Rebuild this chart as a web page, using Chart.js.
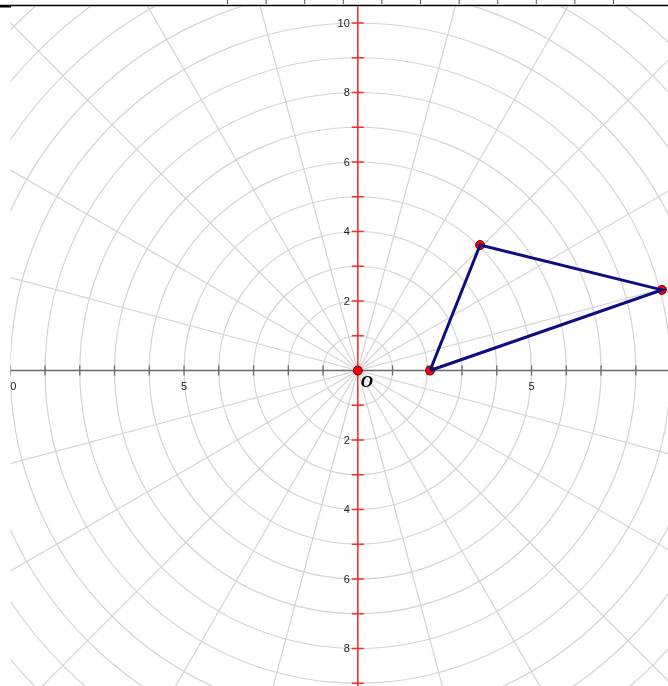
<!DOCTYPE html>
<html>
<head>
<meta charset="utf-8">
<script src="https://cdn.jsdelivr.net/npm/chart.js@4/dist/chart.umd.min.js"></script>
<style>
  html, body { margin: 0; padding: 0; background: #ffffff; }
  #wrap { position: relative; width: 668px; height: 686px; }
  canvas { display: block; }
</style>
</head>
<body>
<div id="wrap"><canvas id="c" width="668" height="686"></canvas></div>
<script>
// ---- data ----
const triX = [2.08, 3.52, 8.75];          // triangle vertices, x
const triY = [0, 3.61, 2.32];             // triangle vertices, y
const originX = [0];
const originY = [0];
const circleRadii = [1, 2, 3, 4, 5, 6, 7, 8, 9, 10, 11, 12, 13, 14];
const rayAnglesDeg = [0, 15, 30, 45, 60, 75, 90, 105, 120, 135, 150, 165,
                      180, 195, 210, 225, 240, 255, 270, 285, 300, 315, 330, 345];
const xTickValues = [-10, -9, -8, -7, -6, -5, -4, -3, -2, -1, 1, 2, 3, 4, 5, 6, 7, 8];
const yTickValues = [-9, -8, -7, -6, -5, -4, -3, -2, -1, 1, 2, 3, 4, 5, 6, 7, 8, 9, 10];
const xLabelValues = [-10, -5, 5];
const xLabelTexts = ['10', '5', '5'];
const yLabelValues = [10, 8, 6, 4, 2, -2, -4, -6, -8];
const yLabelTexts = ['10', '8', '6', '4', '2', '2', '4', '6', '8'];
const originLabel = 'O';

// view window (axis ranges)
const X_MIN = -10.296, X_MAX = 8.927;
const Y_MIN = -9.079, Y_MAX = 10.662;

const triPoints = triX.map((x, i) => ({ x: x, y: triY[i] }));
const closedTri = triPoints.concat([triPoints[0]]);
const dots = triPoints.concat(originX.map((x, i) => ({ x: x, y: originY[i] })));

const gridPlugin = {
  id: 'polarGrid',
  beforeDatasetsDraw(chart) {
    const ctx = chart.ctx;
    const xs = chart.scales.x, ys = chart.scales.y;
    const ox = xs.getPixelForValue(0), oy = ys.getPixelForValue(0);
    ctx.save();
    ctx.beginPath();
    ctx.rect(10.5, 6.5, chart.width - 10.5, chart.height - 6.5);
    ctx.clip();
    // polar grid
    ctx.strokeStyle = '#d4d4d4';
    ctx.lineWidth = 1.2;
    circleRadii.forEach(r => {
      ctx.beginPath();
      const rp = xs.getPixelForValue(r) - ox;
      ctx.arc(ox, oy, rp, 0, Math.PI * 2);
      ctx.stroke();
    });
    rayAnglesDeg.forEach(a => {
      const t = a * Math.PI / 180;
      const ex = xs.getPixelForValue(20 * Math.cos(t));
      const ey = ys.getPixelForValue(20 * Math.sin(t));
      ctx.beginPath();
      ctx.moveTo(ox, oy);
      ctx.lineTo(ex, ey);
      ctx.stroke();
    });
    // x axis
    ctx.strokeStyle = '#6a6a6a';
    ctx.lineWidth = 1.3;
    ctx.beginPath();
    ctx.moveTo(0, oy);
    ctx.lineTo(chart.width, oy);
    ctx.stroke();
    xTickValues.forEach(v => {
      const px = xs.getPixelForValue(v);
      ctx.beginPath();
      ctx.moveTo(px, oy - 5);
      ctx.lineTo(px, oy + 5);
      ctx.stroke();
    });
    // y axis
    ctx.strokeStyle = '#ff2a2a';
    ctx.lineWidth = 1.5;
    ctx.beginPath();
    ctx.moveTo(ox, 0);
    ctx.lineTo(ox, chart.height);
    ctx.stroke();
    yTickValues.forEach(v => {
      const py = ys.getPixelForValue(v);
      ctx.beginPath();
      ctx.moveTo(ox - 6, py);
      ctx.lineTo(ox + 6, py);
      ctx.stroke();
    });
    // labels
    ctx.fillStyle = '#222222';
    ctx.font = '11px "Liberation Sans", Arial, sans-serif';
    ctx.textAlign = 'right';
    ctx.textBaseline = 'middle';
    yLabelValues.forEach((v, i) => {
      ctx.fillText(yLabelTexts[i], ox - 8, ys.getPixelForValue(v) + 0.5);
    });
    ctx.textAlign = 'center';
    ctx.textBaseline = 'top';
    xLabelValues.forEach((v, i) => {
      ctx.fillText(xLabelTexts[i], xs.getPixelForValue(v), oy + 11);
    });
    ctx.fillStyle = '#000000';
    ctx.font = 'italic bold 17px "Liberation Serif", "Times New Roman", serif';
    ctx.textAlign = 'left';
    ctx.textBaseline = 'alphabetic';
    ctx.fillText(originLabel, ox + 3, oy + 16.5);
    ctx.restore();

    // top frame line
    ctx.save();
    ctx.strokeStyle = '#000000';
    ctx.lineWidth = 1.5;
    ctx.beginPath();
    ctx.moveTo(0, 5.5);
    ctx.lineTo(chart.width, 5.5);
    ctx.stroke();
    ctx.fillStyle = '#000000';
    ctx.fillRect(0, 5, 11, 2.5);
    ctx.strokeStyle = '#555555';
    ctx.lineWidth = 1;
    for (let k = 0; k < 11; k++) {
      const px = 227.5 + k * 38.6;
      ctx.beginPath();
      ctx.moveTo(px, 0);
      ctx.lineTo(px, 4);
      ctx.stroke();
    }
    ctx.restore();
  }
};

new Chart(document.getElementById('c'), {
  type: 'scatter',
  data: {
    datasets: [
      {
        label: 'triangle',
        data: closedTri,
        showLine: true,
        borderColor: '#0d0d82',
        borderWidth: 3,
        pointRadius: 0,
        fill: false,
        tension: 0,
        clip: false
      },
      {
        label: 'points',
        data: dots,
        showLine: false,
        pointRadius: 4.5,
        pointBackgroundColor: '#ff0000',
        pointBorderColor: '#5a0000',
        pointBorderWidth: 1,
        clip: false
      }
    ]
  },
  options: {
    responsive: false,
    animation: false,
    events: [],
    layout: { padding: 0, autoPadding: false },
    plugins: { legend: { display: false }, tooltip: { enabled: false }, title: { display: false } },
    scales: {
      x: { type: 'linear', min: X_MIN, max: X_MAX, display: false },
      y: { type: 'linear', min: Y_MIN, max: Y_MAX, display: false }
    }
  },
  plugins: [gridPlugin]
});
</script>
</body>
</html>
